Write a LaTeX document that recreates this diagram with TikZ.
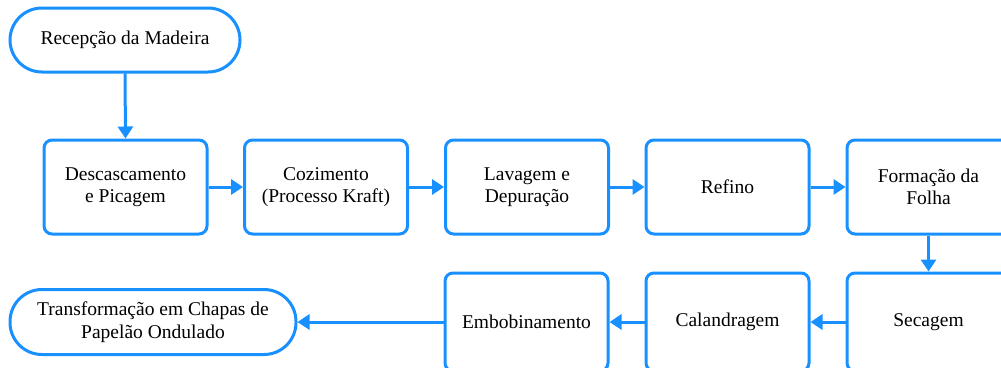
\documentclass[tikz,border=0pt]{standalone}
\usepackage{fontspec}
\setmainfont{Liberation Serif}
\usetikzlibrary{arrows.meta}
\definecolor{flowblue}{RGB}{24,144,255}
\begin{document}
\begin{tikzpicture}[x=1pt,y=-1pt,
  every node/.style={font=\fontsize{19.5}{22.5}\selectfont, align=center, text=black},
  procbox/.style={draw=flowblue, line width=3pt, rounded corners=8pt, fill=white, minimum width=163pt, inner sep=0pt},
  termbox/.style={draw=flowblue, line width=3pt, fill=white, inner sep=0pt},
  flow/.style={draw=flowblue, line width=3pt, -{Triangle[length=12pt,width=15pt]}}]
\useasboundingbox (0,0) rectangle (1001,367);
\clip (0,0) rectangle (1001,367);
\node[termbox, minimum width=230pt, minimum height=64pt, rounded corners=32pt] (t1) at (125,40) {Recepção da Madeira};
\node[procbox, minimum height=94pt] (b1) at (125.5,187) {Descascamento\\e Picagem};
\node[procbox, minimum height=94pt] (b2) at (326,187) {Cozimento\\(Processo Kraft)};
\node[procbox, minimum height=94pt] (b3) at (527,187) {Lavagem e\\Depuração};
\node[procbox, minimum height=94pt] (b4) at (727.5,187) {Refino};
\node[procbox, minimum height=94pt] (b5) at (928.5,187) {Formação da\\Folha};
\node[procbox, minimum height=98pt] (b6) at (928.5,322) {Secagem};
\node[procbox, minimum height=98pt] (b7) at (727.5,322) {Calandragem};
\node[procbox, minimum height=98pt] (b8) at (526.5,322) {Embobinamento};
\node[termbox, minimum width=286pt, minimum height=65pt, rounded corners=32pt] (t2) at (153,322) {Transformação em Chapas de\\Papelão Ondulado};
\draw[flow] (t1.south) -- (b1.north);
\draw[flow] (b1) -- (b2);
\draw[flow] (b2) -- (b3);
\draw[flow] (b3) -- (b4);
\draw[flow] (b4) -- (b5);
\draw[flow] (b5.south) -- (b6.north);
\draw[flow] (b6) -- (b7);
\draw[flow] (b7) -- (b8);
\draw[flow] (b8) -- (t2);
\end{tikzpicture}
\end{document}
